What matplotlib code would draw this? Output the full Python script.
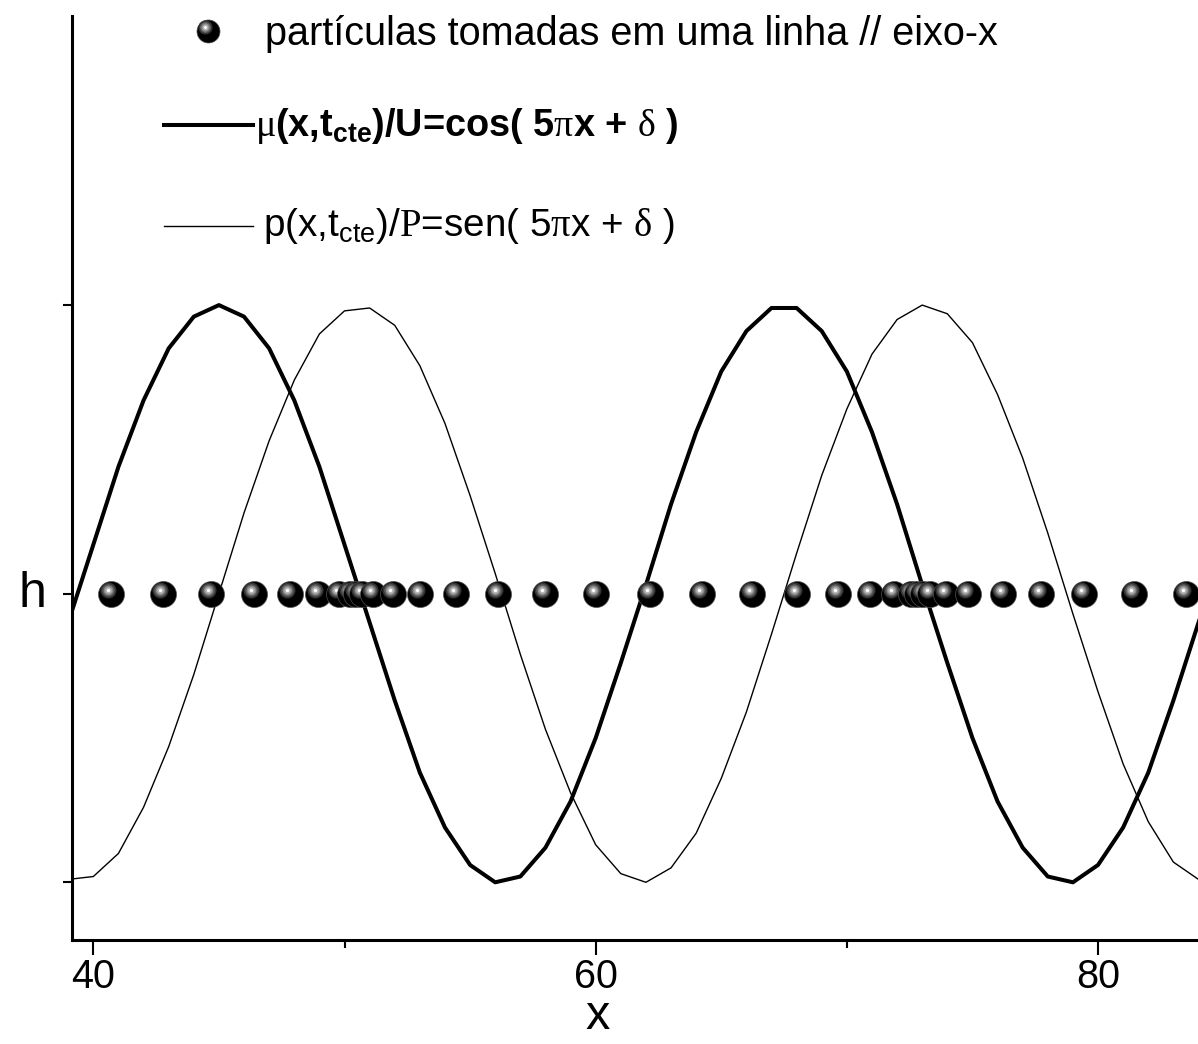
import matplotlib
matplotlib.use("Agg")
import matplotlib.pyplot as plt
from matplotlib.lines import Line2D
from matplotlib.ticker import MultipleLocator, FixedLocator, FixedFormatter
from matplotlib.transforms import offset_copy

plt.rcParams["font.family"] = ["Liberation Sans", "DejaVu Sans"]
plt.rcParams["mathtext.fontset"] = "custom"
plt.rcParams["mathtext.rm"] = "Liberation Sans"
plt.rcParams["mathtext.sf"] = "Liberation Sans"
plt.rcParams["mathtext.bf"] = "Liberation Sans:bold"
plt.rcParams["mathtext.cal"] = "Liberation Serif"

# sampled curves, one point per unit of x
x_grid = list(range(39, 86))
u_cos = [-0.10, 0.17, 0.44, 0.67, 0.85, 0.96, 1.00, 0.96, 0.85, 0.67,
         0.44, 0.17, -0.10, -0.37, -0.62, -0.81, -0.94, -1.00, -0.98, -0.88,
         -0.72, -0.50, -0.24, 0.03, 0.31, 0.56, 0.77, 0.91, 0.99, 0.99,
         0.91, 0.77, 0.56, 0.31, 0.03, -0.24, -0.50, -0.72, -0.88, -0.98,
         -1.00, -0.94, -0.81, -0.62, -0.37, -0.10, 0.17]
p_sen = [-0.99, -0.98, -0.90, -0.74, -0.53, -0.28, 0.00, 0.28, 0.53, 0.74,
         0.90, 0.98, 0.99, 0.93, 0.79, 0.59, 0.34, 0.07, -0.21, -0.47,
         -0.69, -0.87, -0.97, -1.00, -0.95, -0.83, -0.64, -0.41, -0.14, 0.14,
         0.41, 0.64, 0.83, 0.95, 1.00, 0.97, 0.87, 0.69, 0.47, 0.21,
         -0.07, -0.34, -0.59, -0.79, -0.93, -0.99, -0.98]

# particle positions along the line y = h
particles_x = [40.70, 42.76, 44.68, 46.41, 47.84, 48.94, 49.79, 50.23, 50.47,
               50.71, 51.14, 51.94, 53.01, 54.43, 56.10, 57.99, 60.02, 62.15,
               64.22, 66.21, 68.02, 69.63, 70.93, 71.86, 72.56, 72.80, 73.03,
               73.31, 73.95, 74.83, 76.20, 77.71, 79.46, 81.45, 83.50]
particles_y = [0.0] * len(particles_x)

x_ticks = [40, 60, 80]
y_ticks = [-1, 0, 1]
y_ticklabels = ["", "h", ""]

label_particles = "partículas tomadas em uma linha // eixo-x"
label_cos = r"$\mathcal{\mu}$(x,t$_{\mathbf{cte}}$)/U=cos( 5$\mathcal{\pi}$x + $\mathcal{\delta}$ )"
label_sen = r"p(x,t$_{\mathsf{cte}}$)/$\mathcal{P}$=sen( 5$\mathcal{\pi}$x + $\mathcal{\delta}$ )"

fig = plt.figure(figsize=(11.98, 10.44), dpi=100)
ax = fig.add_axes([0.0605, 0.0996, 0.9395, 0.8846])

ax.plot(x_grid, u_cos, color="black", lw=2.9)
ax.plot(x_grid, p_sen, color="black", lw=1.0)

# shiny ball: black disc + grey/white highlight shifted up-left
shine = [(16, "#333333"), (12.5, "#5c5c5c"), (9.5, "#8a8a8a"),
         (6.5, "#b8b8b8"), (3.2, "#ffffff")]


def sphere(x, y, trans, d=26.0):
    pt = 72.0 / fig.dpi
    k = d / 26.0
    fig.add_artist(Line2D([x], [y], transform=trans, marker="o", ls="none",
                          ms=d * pt, mfc="black", mec="#505050", mew=0.5,
                          clip_on=False))
    hl = offset_copy(trans, fig=fig, x=-3 * k, y=4 * k, units="dots")
    for size, col in shine:
        fig.add_artist(Line2D([x], [y], transform=hl, marker="o", ls="none",
                              ms=size * k * pt, mfc=col, mec="none",
                              clip_on=False))


for px, py in zip(particles_x, particles_y):
    sphere(px, py, ax.transData)

ax.set_xlim(39.17, 83.98)
ax.set_ylim(-1.2, 2.0)

ax.spines["top"].set_visible(False)
ax.spines["right"].set_visible(False)
ax.spines["left"].set_linewidth(2.2)
ax.spines["bottom"].set_linewidth(2.2)

ax.xaxis.set_major_locator(FixedLocator(x_ticks))
ax.xaxis.set_minor_locator(MultipleLocator(10))
ax.yaxis.set_major_locator(FixedLocator(y_ticks))
ax.yaxis.set_major_formatter(FixedFormatter(y_ticklabels))
ax.tick_params(axis="x", which="major", direction="out", length=10.8,
               width=1.5, labelsize=28.5, pad=2)
ax.tick_params(axis="x", which="minor", direction="out", length=5.5,
               width=1.5)
ax.tick_params(axis="y", which="major", direction="out", length=6.7,
               width=1.5, labelsize=36, pad=12)
for lab in ax.get_yticklabels():
    lab.set_va("center")
ax.set_xlabel("x", fontsize=35)
ax.xaxis.set_label_coords(0.4665, -0.058)

# legend, drawn by hand at the top of the plot
W, H = 1198.0, 1044.0
sphere(208 / W, 1 - 31 / H, fig.transFigure, d=23)
fig.text(265 / W, 1 - 45 / H, label_particles, fontsize=28.5, va="baseline")

fig.add_artist(Line2D([164 / W, 253 / W], [1 - 125 / H, 1 - 125 / H],
                      transform=fig.transFigure, color="black", lw=2.9))
fig.text(255 / W, 1 - 136 / H, label_cos, fontsize=27.3, fontweight="bold",
         va="baseline")

fig.add_artist(Line2D([164 / W, 253 / W], [1 - 226 / H, 1 - 226 / H],
                      transform=fig.transFigure, color="black", lw=1.0))
fig.text(263 / W, 1 - 236 / H, label_sen, fontsize=27.8, va="baseline")

fig.savefig("out.png", dpi=100)
